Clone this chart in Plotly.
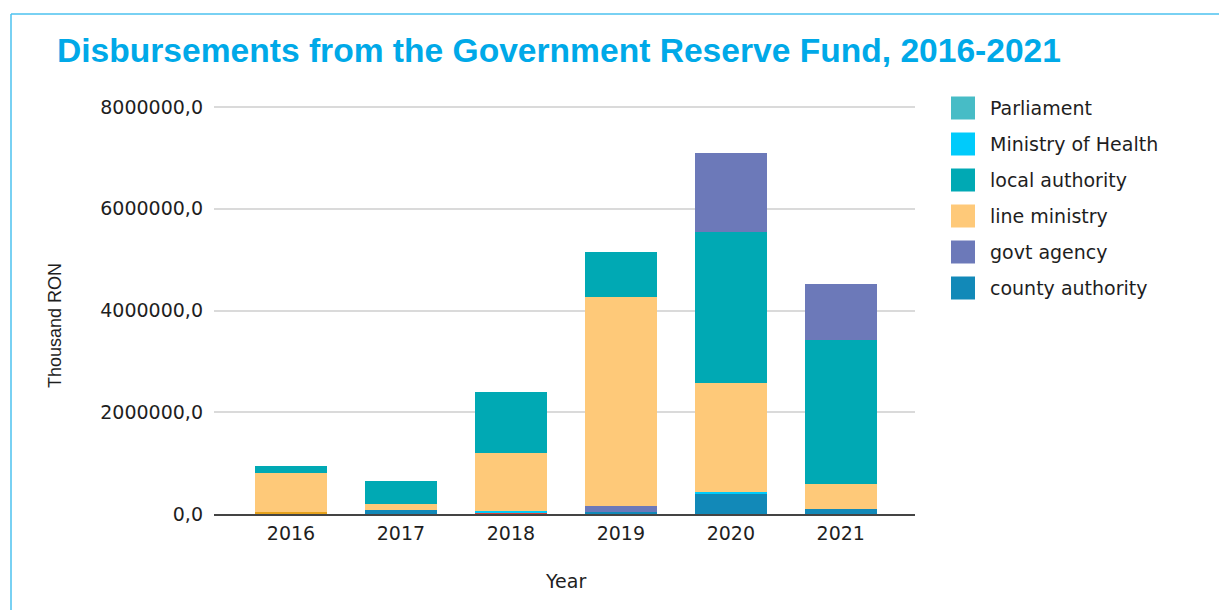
import plotly.graph_objects as go

# Disbursements from the Government Reserve Fund by recipient type (thousand RON)
years = ["2016", "2017", "2018", "2019", "2020", "2021"]

parliament = [0.0, 0.0, 0.0, 0.0, 0.0, 0.0]
ministry_of_health = [0.0, 0.0, 20000.0, 0.0, 45000.0, 0.0]
local_authority = [137000.0, 447000.0, 1193000.0, 885000.0, 2968000.0, 2824000.0]
line_ministry = [776000.0, 117000.0, 1140000.0, 4108000.0, 2137000.0, 498000.0]
govt_agency_top = [0.0, 0.0, 0.0, 0.0, 1547000.0, 1101000.0]
govt_agency_base = [0.0, 0.0, 0.0, 123000.0, 0.0, 0.0]
county_authority = [0.0, 85000.0, 0.0, 40000.0, 393000.0, 98000.0]
other_red = [0.0, 0.0, 39000.0, 0.0, 0.0, 0.0]
other_gold = [30000.0, 0.0, 0.0, 0.0, 0.0, 0.0]

y_tick_vals = [0, 2000000, 4000000, 6000000, 8000000]
y_tick_text = ["0,0", "2000000,0", "4000000,0", "6000000,0", "8000000,0"]

legend_names = ["Parliament", "Ministry of Health", "local authority",
                "line ministry", "govt agency", "county authority"]
legend_colors = ["#47bcc6", "#00cbfb", "#00a9b4", "#fec979", "#6c79b9", "#1289b8"]

C_PARL, C_MOH, C_LOCAL, C_LINE, C_GOVT, C_COUNTY = legend_colors
C_RED = "#d2473f"
C_GOLD = "#e6a21c"

W, H = 1221, 610
PL, PR, PT, PB = 214, 915, 106, 514  # plot area in pixels
Y_MAX = 8020000


def px_x(x):
    return (x - PL) / (PR - PL)


def px_y(y):
    return (PB - y) / (PB - PT)


BAR_W = 0.656
fig = go.Figure()

# stacked from the bottom up
stack = [
    ("other", other_red, C_RED),
    ("other", other_gold, C_GOLD),
    ("county authority", county_authority, C_COUNTY),
    ("Ministry of Health", ministry_of_health, C_MOH),
    ("govt agency", govt_agency_base, C_GOVT),
    ("line ministry", line_ministry, C_LINE),
    ("local authority", local_authority, C_LOCAL),
    ("govt agency", govt_agency_top, C_GOVT),
    ("Parliament", parliament, C_PARL),
]
for name, vals, col in stack:
    fig.add_trace(go.Bar(
        x=years, y=vals, name=name, width=BAR_W,
        marker=dict(color=col, line=dict(width=0)),
        showlegend=False,
    ))

font_family = "DejaVu Sans, Liberation Sans, Arial, sans-serif"
text_col = "#1e1e1e"

fig.update_layout(
    width=W, height=H,
    barmode="stack",
    paper_bgcolor="white", plot_bgcolor="white",
    margin=dict(l=PL, r=W - PR, t=PT, b=H - PB, autoexpand=False),
    font=dict(family=font_family, size=19, color=text_col),
    title=dict(
        text="<b>Disbursements from the Government Reserve Fund, 2016-2021</b>",
        font=dict(family="Liberation Sans, Arial, sans-serif", size=33.6, color="#00a9e8"),
        xref="container", yref="container",
        x=57 / W, xanchor="left", y=1 - 50 / H, yanchor="middle",
    ),
    xaxis=dict(
        type="category", range=[-0.7, 5.675],
        showgrid=False, showline=True, linecolor="#444444", linewidth=2,
        ticks="", tickfont=dict(size=19, color=text_col),
        ticklabelstandoff=1,
    ),
    yaxis=dict(
        range=[0, Y_MAX], tickvals=y_tick_vals, ticktext=y_tick_text,
        showgrid=True, gridcolor="#dadada", gridwidth=2,
        zeroline=False, showline=False, ticks="",
        tickfont=dict(size=19, color=text_col), ticklabelstandoff=10,
    ),
)

annotations = [
    dict(text="Thousand RON", x=px_x(55), y=px_y(326), xref="paper", yref="paper",
         textangle=-90, showarrow=False, xanchor="center", yanchor="middle",
         font=dict(family="Liberation Sans, Arial, sans-serif", size=18, color=text_col)),
    dict(text="Year", x=px_x(565), y=px_y(581), xref="paper", yref="paper",
         showarrow=False, xanchor="center", yanchor="middle",
         font=dict(size=19, color=text_col)),
]

shapes = [
    # frame around the chart
    dict(type="line", xref="paper", yref="paper", x0=px_x(11), x1=px_x(11),
         y0=px_y(14), y1=px_y(615), line=dict(color="#4cc2ef", width=1.5)),
    dict(type="line", xref="paper", yref="paper", x0=px_x(11), x1=px_x(1219),
         y0=px_y(14), y1=px_y(14), line=dict(color="#4cc2ef", width=1.5)),
]

# legend: coloured squares with labels
for i, (name, col) in enumerate(zip(legend_names, legend_colors)):
    cy = 108 + 36 * i
    shapes.append(dict(type="rect", xref="paper", yref="paper",
                       x0=px_x(951), x1=px_x(975), y0=px_y(cy - 11.5), y1=px_y(cy + 11.5),
                       fillcolor=col, line=dict(width=0)))
    annotations.append(dict(text=name, x=px_x(988), y=px_y(cy), xref="paper", yref="paper",
                            showarrow=False, xanchor="left", yanchor="middle",
                            font=dict(size=19, color=text_col)))

fig.update_layout(annotations=annotations, shapes=shapes)

fig.write_html("out.html")
